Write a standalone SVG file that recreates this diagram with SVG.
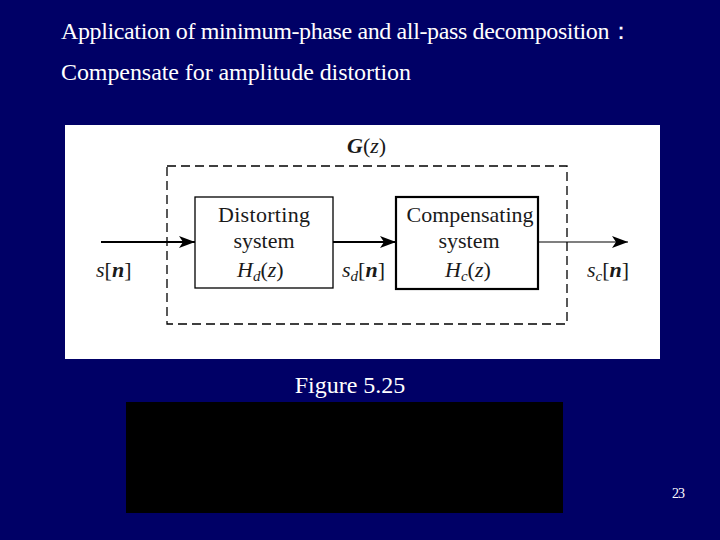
<svg xmlns="http://www.w3.org/2000/svg" width="720" height="540" viewBox="0 0 720 540">
<defs>
<style>
.slide{font-family:"Liberation Serif","Times New Roman",serif;fill:#ffffff}
.dg{font-family:"Liberation Serif","Times New Roman",serif;fill:#1a1a1a;font-size:22px}
.it{font-style:italic}
.sub{font-size:15px;font-style:italic}
.blk{fill:none;stroke:#000}
</style>
<marker id="ah" viewBox="0 0 16 12" refX="16" refY="6" markerWidth="16" markerHeight="12" markerUnits="userSpaceOnUse" orient="auto">
<path d="M0,0 L16,6 L0,12 L4,6 Z" fill="#000"/>
</marker>
</defs>
<rect width="720" height="540" fill="#000066"/>
<text class="slide" x="61" y="39" font-size="24" textLength="572">Application of minimum-phase and all-pass decomposition：</text>
<text class="slide" x="61" y="80" font-size="24" textLength="350">Compensate for amplitude distortion</text>
<rect x="65" y="125" width="595" height="234" fill="#ffffff"/>
<g id="G">
<rect x="167" y="166" width="400" height="158" fill="none" stroke="#000" stroke-width="1.3" stroke-dasharray="9,5"/>
<text class="dg" x="347" y="153"><tspan font-weight="bold" font-style="italic">G</tspan>(<tspan class="it">z</tspan>)</text>
</g>
<g id="distorting">
<rect class="blk" x="195" y="197" width="138" height="91" stroke-width="1.3"/>
<text class="dg" x="264" y="222" text-anchor="middle" textLength="92">Distorting</text>
<text class="dg" x="264" y="248" text-anchor="middle">system</text>
<text class="dg" x="237" y="277"><tspan class="it">H</tspan><tspan class="sub" dy="4">d</tspan><tspan dy="-4">(</tspan><tspan class="it">z</tspan>)</text>
</g>
<g id="compensating">
<rect class="blk" x="396" y="197" width="142" height="92" stroke-width="2.2"/>
<text class="dg" x="470" y="222" text-anchor="middle" textLength="127">Compensating</text>
<text class="dg" x="469" y="248" text-anchor="middle">system</text>
<text class="dg" x="445" y="277"><tspan class="it">H</tspan><tspan class="sub" dy="4">c</tspan><tspan dy="-4">(</tspan><tspan class="it">z</tspan>)</text>
</g>
<g id="connectors">
<line x1="101" y1="242" x2="195" y2="242" stroke="#000" stroke-width="2.2" marker-end="url(#ah)"/>
<line x1="333" y1="242" x2="396" y2="242" stroke="#000" stroke-width="2.2" marker-end="url(#ah)"/>
<line x1="538" y1="242" x2="628" y2="242" stroke="#000" stroke-width="1.2" marker-end="url(#ah)"/>
</g>
<g id="labels">
<text class="dg" x="96" y="277"><tspan class="it">s</tspan>[<tspan class="it" font-weight="bold">n</tspan>]</text>
<text class="dg" x="342" y="277"><tspan class="it">s</tspan><tspan class="sub" dy="4">d</tspan><tspan dy="-4">[</tspan><tspan class="it" font-weight="bold">n</tspan>]</text>
<text class="dg" x="587" y="277"><tspan class="it">s</tspan><tspan class="sub" dy="4">c</tspan><tspan dy="-4">[</tspan><tspan class="it" font-weight="bold">n</tspan>]</text>
</g>
<text class="slide" x="350" y="393" font-size="24" text-anchor="middle">Figure 5.25</text>
<rect x="126" y="402" width="437" height="111" fill="#000000"/>
<text class="slide" x="672" y="498" font-size="14" textLength="13">23</text>
</svg>
